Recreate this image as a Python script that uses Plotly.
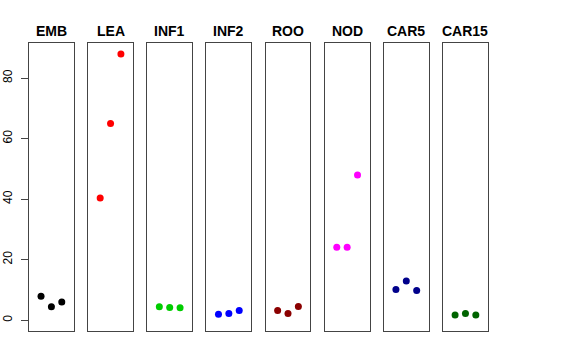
import plotly.graph_objects as go

panels = ["EMB", "LEA", "INF1", "INF2", "ROO", "NOD", "CAR5", "CAR15"]
colors = ["#000000", "#FF0000", "#00CD00", "#0000FF", "#8B0000", "#FF00FF", "#00008B", "#006400"]
reps = [1, 2, 3]
EMB = [7.9, 4.4, 6.0]
LEA = [40.4, 65.0, 88.0]
INF1 = [4.4, 4.2, 4.1]
INF2 = [1.9, 2.2, 3.2]
ROO = [3.2, 2.2, 4.5]
NOD = [24.1, 24.1, 48.0]
CAR5 = [10.1, 12.9, 9.8]
CAR15 = [1.65, 2.2, 1.65]
values = [EMB, LEA, INF1, INF2, ROO, NOD, CAR5, CAR15]
y_ticks = [0, 20, 40, 60, 80]

W, H = 576, 360
fig = go.Figure()
layout = dict(
    width=W, height=H, margin=dict(l=0, r=0, t=0, b=0, autoexpand=False),
    plot_bgcolor="white", paper_bgcolor="white", showlegend=False,
    font=dict(family="Liberation Sans, Arial, sans-serif", color="black", size=12),
)
annotations = []
left0, step, pw = 29.0, 59.15, 44.8
ytop, ybot = 43.0, 331.0
for i, (name, col, vals) in enumerate(zip(panels, colors, values)):
    n = i + 1
    xs = "x" if n == 1 else f"x{n}"
    ys = "y" if n == 1 else f"y{n}"
    fig.add_trace(go.Scatter(x=reps, y=vals, mode="markers", xaxis=xs, yaxis=ys,
                             marker=dict(color=col, size=7, line=dict(width=0))))
    l = left0 + i * step
    r = l + pw
    xk = "xaxis" if n == 1 else f"xaxis{n}"
    yk = "yaxis" if n == 1 else f"yaxis{n}"
    layout[xk] = dict(domain=[l / W, r / W], range=[-0.16, 4.16], showgrid=False,
                      zeroline=False, showticklabels=False, ticks="", showline=True,
                      mirror=True, linecolor="#444444", linewidth=1, automargin=False,
                      anchor=ys, fixedrange=True)
    ydict = dict(domain=[1 - ybot / H, 1 - ytop / H], range=[-3.6, 91.6], showgrid=False,
                 zeroline=False, showline=True, mirror=True, linecolor="#444444",
                 linewidth=1, anchor=xs, fixedrange=True, automargin=False)
    if n == 1:
        ydict.update(tickvals=y_ticks, ticktext=[str(v) for v in y_ticks], ticks="outside",
                     ticklen=7, tickcolor="#444444", tickangle=-90,
                     tickfont=dict(size=12, color="black"), ticklabelstandoff=4)
    else:
        ydict.update(showticklabels=False, ticks="")
    layout[yk] = ydict
    annotations.append(dict(text=f"<b>{name}</b>", x=(l + r) / 2 / W, y=1 - 30.5 / H,
                            xref="paper", yref="paper", showarrow=False,
                            xanchor="center", yanchor="middle",
                            font=dict(size=14, color="black")))
layout["annotations"] = annotations
fig.update_layout(**layout)
fig.write_html("out.html", config={"displayModeBar": False},
               post_script="document.body.style.margin='0';")
